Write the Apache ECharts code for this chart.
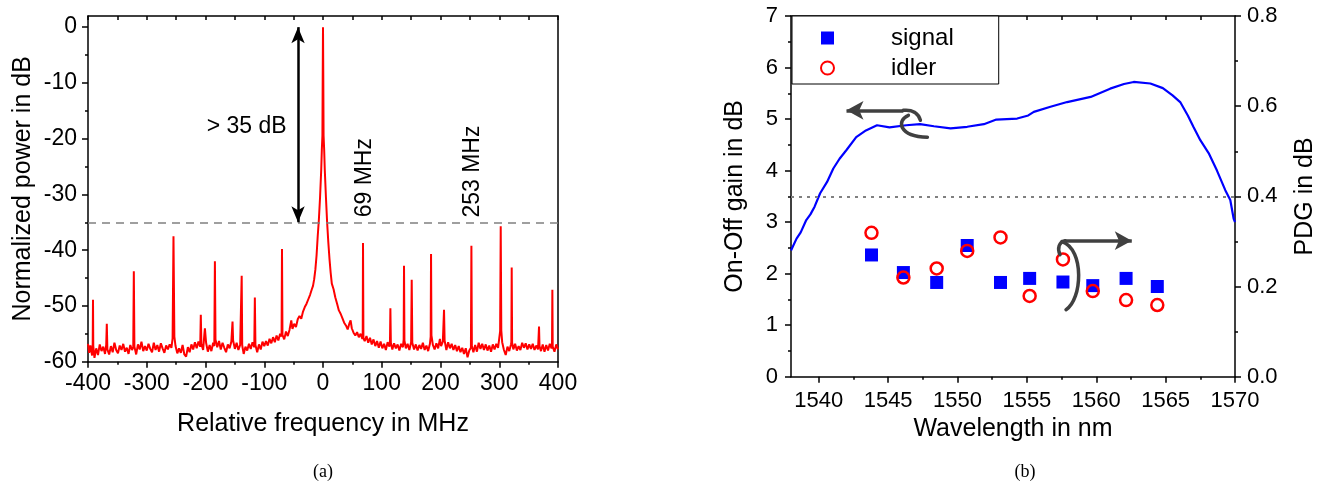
<!DOCTYPE html>
<html><head><meta charset="utf-8">
<script src="https://cdn.jsdelivr.net/npm/echarts@6/dist/echarts.min.js"></script>
<style>html,body{margin:0;padding:0;background:#fff}#c{width:1323px;height:485px}</style>
</head><body><div id="c"></div>
<script>
// ---------- (a) RF spectrum: [relative frequency MHz, normalized power dB] ----------
const spectrum = [
[-400,-56.8],[-398,-58.4],[-396,-57.1],[-393,-58.9],[-392,-56.9],[-391.5,-48.9],[-391,-57.2],[-389,-59.3],[-386,-57.6],[-383,-58.8],[-380,-56.9],[-377,-58.1],[-374,-57.3],[-371,-58.6],[-369,-57.0],[-368,-53.2],[-367,-57.8],[-364,-58.7],[-361,-57.2],[-358,-58.3],[-355,-56.6],[-352,-57.9],[-349,-58.5],[-346,-57.1],[-343,-57.9],[-340,-56.8],[-337,-58.2],[-334,-57.5],[-331,-58.6],[-328,-57.0],[-325,-57.9],[-323,-57.4],[-322,-43.8],[-321,-57.3],[-318,-58.7],[-315,-56.9],[-312,-57.8],[-309,-56.4],[-306,-58.1],[-303,-57.2],[-300,-58.0],[-297,-56.8],[-294,-57.7],[-291,-58.3],[-288,-56.6],[-285,-57.9],[-282,-57.0],[-279,-58.2],[-276,-56.7],[-273,-57.6],[-270,-58.4],[-267,-57.1],[-264,-57.8],[-261,-56.9],[-258,-57.5],[-256,-55.8],[-254.5,-37.5],[-253,-55.5],[-251,-57.2],[-248,-58.5],[-245,-57.6],[-242,-58.4],[-239,-57.0],[-236,-58.7],[-233,-59.1],[-230,-57.4],[-227,-58.3],[-224,-56.9],[-221,-57.8],[-218,-56.5],[-215,-57.6],[-212,-56.4],[-209,-57.3],[-208,-51.6],[-207,-56.8],[-204,-57.9],[-202,-55.2],[-201,-54.0],[-199,-56.6],[-196,-58.2],[-193,-57.0],[-190,-58.1],[-187,-56.6],[-185,-57.2],[-184,-42.0],[-183,-56.0],[-180,-57.4],[-177,-56.3],[-174,-57.8],[-171,-56.6],[-168,-57.5],[-165,-58.3],[-162,-56.9],[-159,-57.6],[-156,-56.4],[-154,-52.8],[-153,-56.2],[-150,-57.7],[-147,-56.6],[-144,-57.9],[-141,-57.0],[-139,-56.8],[-138.4,-44.6],[-137.5,-57.1],[-135,-58.6],[-132,-57.3],[-129,-58.0],[-126,-56.8],[-123,-57.7],[-120,-56.5],[-117,-57.4],[-116,-48.5],[-115,-57.0],[-112,-58.3],[-109,-56.9],[-106,-57.8],[-103,-56.4],[-100,-57.2],[-97,-56.3],[-94,-57.1],[-91,-55.9],[-88,-56.7],[-85,-55.6],[-82,-56.5],[-79,-55.3],[-76,-56.2],[-73,-55.0],[-70.5,-55.5],[-69.8,-39.8],[-69,-55.2],[-66,-56.0],[-63,-54.6],[-60,-55.4],[-57,-54.3],[-54,-52.6],[-52,-54.1],[-49,-53.2],[-46,-53.8],[-43,-52.4],[-40,-51.8],[-37,-52.3],[-34,-51.0],[-31,-50.2],[-28,-49.6],[-25,-48.8],[-22,-48.0],[-19,-47.0],[-17,-46.4],[-15,-45.2],[-13,-43.5],[-11,-41.0],[-9,-37.5],[-7,-34.5],[-5,-30.5],[-3,-25.5],[-2,-22.0],[-1,-19.5],[-0.5,-9],[0,0],[0.5,-9],[1,-19.5],[2,-22.0],[3,-25.5],[5,-30.5],[7,-35.0],[9,-38.5],[11,-41.5],[13,-44.0],[15,-46.0],[18,-47.0],[21,-48.5],[24,-49.6],[27,-50.8],[30,-51.4],[33,-52.2],[36,-53.0],[39,-53.5],[42,-54.2],[45,-53.1],[47,-52.6],[49,-54.0],[52,-54.8],[55,-55.3],[58,-54.7],[61,-55.6],[64,-55.0],[67,-55.9],[67.6,-55.5],[68.1,-38.7],[68.8,-55.8],[71,-56.3],[74,-55.4],[77,-56.6],[80,-55.7],[83,-56.9],[86,-56.0],[89,-57.2],[92,-56.3],[95,-57.5],[98,-56.4],[101,-57.6],[104,-56.8],[107,-57.9],[110,-56.5],[113,-57.3],[114,-56.5],[114.7,-50.4],[115.5,-56.6],[118,-57.8],[121,-56.7],[124,-57.6],[127,-56.9],[130,-58.0],[133,-56.8],[136,-57.4],[137.3,-56.0],[137.9,-42.8],[138.6,-56.2],[141,-57.6],[144,-56.8],[147,-57.9],[150,-56.5],[151,-45.3],[152,-56.6],[155,-57.8],[158,-56.9],[161,-58.0],[164,-57.0],[167,-57.7],[170,-56.6],[173,-57.9],[176,-57.1],[179,-58.1],[182,-56.8],[183.3,-55.5],[183.9,-40.7],[184.6,-55.3],[187,-57.0],[190,-57.8],[193,-56.7],[196,-57.6],[199,-55.9],[201,-57.2],[204,-56.4],[206,-50.7],[207,-56.2],[210,-57.9],[213,-56.5],[216,-57.6],[219,-56.8],[222,-57.9],[225,-57.0],[228,-58.1],[231,-57.2],[234,-58.3],[237,-57.5],[240,-58.6],[243,-57.6],[246,-59.2],[249,-58.0],[251.8,-57.5],[252.6,-39.2],[253.4,-57.2],[256,-58.3],[259,-57.0],[262,-58.2],[265,-56.6],[268,-57.7],[271,-56.8],[274,-57.9],[277,-56.9],[280,-58.0],[283,-57.1],[286,-58.2],[289,-56.9],[292,-57.8],[295,-56.8],[298,-57.5],[300,-55.8],[301.5,-54.5],[302.5,-35.7],[303.5,-54.4],[305,-56.5],[308,-57.9],[311,-58.8],[314,-57.3],[317,-58.1],[320,-56.9],[320.6,-56.5],[321.2,-43.1],[321.9,-56.6],[324,-57.8],[327,-56.8],[330,-58.0],[333,-57.2],[336,-57.9],[339,-56.6],[342,-57.5],[345,-56.7],[348,-57.8],[351,-56.9],[354,-57.7],[357,-56.8],[360,-57.9],[363,-57.1],[366,-57.8],[367.7,-53.7],[368.5,-57.2],[371,-58.1],[374,-56.9],[377,-58.2],[380,-57.0],[383,-58.0],[386,-56.8],[389,-57.6],[389.8,-57.0],[390.4,-47.1],[391,-57.3],[394,-58.2],[397,-56.9],[400,-57.8]
];
const freqTicks = [-400,-300,-200,-100,0,100,200,300,400];
const powerTicks = [-60,-50,-40,-30,-20,-10,0];
const spurLabels = [{text:'69 MHz', f:71, p:-27}, {text:'253 MHz', f:254, p:-25.9}];

// ---------- (b) gain / PDG ----------
const gainCurve = [
[1538.0,2.45],[1538.4,2.68],[1538.7,2.80],[1539.1,3.04],[1539.4,3.15],[1539.7,3.30],[1540.1,3.56],[1540.6,3.78],[1541.05,4.04],[1541.5,4.23],[1542.0,4.40],[1542.7,4.65],[1543.4,4.78],[1544.2,4.88],[1545.1,4.84],[1546.3,4.88],[1547.3,4.90],[1548.3,4.86],[1549.5,4.82],[1550.7,4.85],[1551.9,4.90],[1552.8,4.99],[1554.3,5.01],[1555.1,5.07],[1555.5,5.14],[1556.7,5.24],[1557.9,5.33],[1559.6,5.43],[1561.0,5.59],[1562.0,5.68],[1562.7,5.72],[1563.9,5.69],[1564.8,5.60],[1565.5,5.46],[1566.05,5.33],[1566.6,5.07],[1567.0,4.85],[1567.5,4.59],[1568.1,4.34],[1568.7,4.00],[1569.3,3.62],[1569.66,3.43],[1569.9,3.07],[1570,3.0]
];
const pointWl   = [1543.8,1546.1,1548.5,1550.7,1553.1,1555.2,1557.6,1559.75,1562.15,1564.4];
const signalPDG = [0.270,0.231,0.209,0.291,0.209,0.218,0.210,0.202,0.218,0.200];
const idlerPDG  = [0.319,0.220,0.240,0.279,0.309,0.179,0.260,0.190,0.170,0.159];
const wlTicks = [1540,1545,1550,1555,1560,1565,1570];
const wlMinorTicks = [1542.5,1547.5,1552.5,1557.5,1562.5,1567.5];
const wlTopTicks = [1540,1542.5,1545,1547.5,1550,1552.5,1555,1557.5,1560,1562.5,1565,1567.5];

const FONT = "'Liberation Sans', Arial, sans-serif";
const axLine = {show:true, onZero:false, lineStyle:{color:'#000', width:1.5}};
const tickStyle = {color:'#000', width:1.5};
const lbl = (size, margin, extra) => Object.assign({color:'#000', fontSize:size, fontFamily:FONT, margin:margin}, extra||{});
const nameStyle = {fontSize:25, color:'#000', fontFamily:FONT};
const plain = v => String(v);

const chart = echarts.init(document.getElementById('c'), null, {renderer:'canvas'});
const option = {
  animation:false,
  backgroundColor:'#fff',
  grid:[
    {left:88, top:16, width:470, height:345.7},
    {left:791, top:16, width:444, height:360.7}
  ],
  legend:{
    left:792, top:16, orient:'vertical',
    data:[{name:'signal', icon:'rect'},{name:'idler', icon:'circle'}],
    itemWidth:13, itemHeight:13, itemGap:6,
    padding:[10,45,4,28],
    borderColor:'#000', borderWidth:1, backgroundColor:'#fff',
    textStyle:{fontSize:24, color:'#000', fontFamily:FONT, padding:[0,0,0,52]},
    selectedMode:false
  },
  xAxis:[
    {gridIndex:0, type:'value', min:-400, max:400, interval:100, position:'bottom',
     axisLine:axLine, axisTick:{length:6, lineStyle:tickStyle},
     minorTick:{show:true, splitNumber:2, length:3, lineStyle:tickStyle},
     splitLine:{show:false}, axisLabel:lbl(23,10, {customValues:freqTicks, formatter:plain}),
     name:'Relative frequency in MHz', nameLocation:'middle', nameGap:50, nameTextStyle:nameStyle},
    {gridIndex:0, type:'value', min:-400, max:400, interval:50, position:'top',
     axisLine:axLine, axisTick:{inside:true, length:4, lineStyle:tickStyle},
     axisLabel:{show:false}, splitLine:{show:false}},
    {gridIndex:1, type:'value', min:1538, max:1570, position:'bottom',
     axisLine:axLine, axisTick:{length:6, lineStyle:tickStyle, customValues:wlTicks},
     splitLine:{show:false}, axisLabel:lbl(22,13,{customValues:wlTicks, formatter:plain}),
     name:'Wavelength in nm', nameLocation:'middle', nameGap:38, nameTextStyle:nameStyle},
    {gridIndex:1, type:'value', min:1538, max:1570, position:'bottom',
     axisLine:{show:false, onZero:false}, axisTick:{length:3, lineStyle:tickStyle, customValues:wlMinorTicks},
     axisLabel:{show:false}, splitLine:{show:false}},
    {gridIndex:1, type:'value', min:1538, max:1570, position:'top',
     axisLine:axLine, axisTick:{inside:true, length:4, lineStyle:tickStyle, customValues:wlTopTicks},
     axisLabel:{show:false}, splitLine:{show:false}}
  ],
  yAxis:[
    {gridIndex:0, type:'value', min:-60, max:2, interval:10, position:'left',
     axisLine:axLine, axisTick:{length:6, lineStyle:tickStyle, customValues:powerTicks},
     minorTick:{show:true, splitNumber:2, length:3, lineStyle:tickStyle},
     splitLine:{show:false}, axisLabel:lbl(23,11,{customValues:powerTicks, formatter:plain}),
     name:'Normalized power in dB', nameLocation:'middle', nameGap:52, nameRotate:90, nameTextStyle:nameStyle},
    {gridIndex:0, type:'value', min:-60, max:2, position:'right',
     axisLine:axLine, axisTick:{show:false}, axisLabel:{show:false}, splitLine:{show:false}},
    {gridIndex:1, type:'value', min:0, max:7, interval:1, position:'left',
     axisLine:axLine, axisTick:{length:6, lineStyle:tickStyle},
     minorTick:{show:true, splitNumber:2, length:3, lineStyle:tickStyle},
     splitLine:{show:false}, axisLabel:lbl(22,13),
     name:'On-Off gain in dB', nameLocation:'middle', nameGap:43, nameRotate:90, nameTextStyle:nameStyle},
    {gridIndex:1, type:'value', min:0, max:0.8, interval:0.2, position:'right',
     axisLine:axLine, axisTick:{length:6, lineStyle:tickStyle},
     minorTick:{show:true, splitNumber:2, length:3, lineStyle:tickStyle},
     splitLine:{show:false}, axisLabel:lbl(22,12,{formatter:v=>v.toFixed(1)}),
     name:'PDG in dB', nameLocation:'middle', nameGap:58, nameRotate:90, nameTextStyle:nameStyle}
  ],
  series:[
    {type:'line', name:'spectrum', xAxisIndex:0, yAxisIndex:0, data:spectrum,
     symbol:'none', showSymbol:false, lineStyle:{color:'#ff0000', width:2}, itemStyle:{color:'#ff0000'}, z:3,
     markLine:{silent:true, symbol:'none', label:{show:false}, animation:false, data:[
       {yAxis:-35, lineStyle:{color:'#808080', type:[8,6], width:1.5}},
       [{coord:[-42.5,0], symbol:'arrow', symbolSize:[10,16], lineStyle:{color:'#000', width:2.5, type:'solid'}},
        {coord:[-42.5,-35], symbol:'arrow', symbolSize:[10,16], lineStyle:{color:'#000', width:2.5, type:'solid'}}]
     ]}},
    {type:'line', name:'gain', xAxisIndex:2, yAxisIndex:2, data:gainCurve,
     symbol:'none', showSymbol:false, lineStyle:{color:'#0000ff', width:2.2}, itemStyle:{color:'#0000ff'}, z:3,
     markLine:{silent:true, symbol:'none', label:{show:false}, animation:false, data:[
       {yAxis:3.5, lineStyle:{color:'#808080', type:[3,5], width:2}},
       [{coord:[1546.1,5.17], symbol:'none', lineStyle:{color:'#404040', width:3.5, type:'solid'}},
        {coord:[1542.0,5.17], symbol:'arrow', symbolSize:[14,17], lineStyle:{color:'#404040', width:3.5, type:'solid'}}],
       [{coord:[1557.75,2.64], symbol:'none', lineStyle:{color:'#404040', width:3.5, type:'solid'}},
        {coord:[1562.56,2.64], symbol:'arrow', symbolSize:[14,17], lineStyle:{color:'#404040', width:3.5, type:'solid'}}]
     ]}},
    {type:'scatter', name:'signal', xAxisIndex:2, yAxisIndex:3,
     data:pointWl.map((w,i)=>[w, signalPDG[i]]),
     symbol:'rect', symbolSize:13, itemStyle:{color:'#0000ff', opacity:1}, z:4},
    {type:'scatter', name:'idler', xAxisIndex:2, yAxisIndex:3,
     data:pointWl.map((w,i)=>[w, idlerPDG[i]]),
     symbol:'circle', symbolSize:12,
     itemStyle:{color:'rgba(255,255,255,0)', borderColor:'#ff0000', borderWidth:2.5, opacity:1}, z:5}
  ]
};
chart.setOption(option);

const px = (xi, yi, v) => chart.convertToPixel({xAxisIndex:xi, yAxisIndex:yi}, v);
const txt = (x, y, text, align, size, rot, family) => ({
  type:'text', x:x, y:y, rotation:rot||0, z:10, silent:true,
  style:{text:text, x:0, y:0, fill:'#000', fontSize:size, fontFamily:family||FONT,
         align:align, textAlign:align, verticalAlign:'middle', textVerticalAlign:'middle'}
});
const curve = (o, p) => ({
  type:'bezierCurve', z:10, silent:true,
  shape:{x1:o[0]+p[0], y1:o[1]+p[1], cpx1:o[0]+p[2], cpy1:o[1]+p[3], cpx2:o[0]+p[4], cpy2:o[1]+p[5], x2:o[0]+p[6], y2:o[1]+p[7]},
  style:{stroke:'#404040', lineWidth:3.5, fill:null, lineCap:'round'}
});
const g = [];
const t35 = px(0,0,[-62,-17.8]);
g.push(txt(t35[0], t35[1], '> 35 dB', 'right', 23));
spurLabels.forEach(s => { const p = px(0,0,[s.f, s.p]); g.push(txt(p[0], p[1], s.text, 'center', 23, Math.PI/2)); });
const aL = px(2,2,[1546.1,5.17]);
g.push(curve(aL, [0,0, 9,-1, 15,3, 17,10]));
g.push(curve(aL, [5,5, -7,10, -5,26, 24,27]));
const aR = px(2,2,[1557.75,2.64]);
g.push(curve(aR, [0,0, -6,1, -8,8, -5,14]));
g.push(curve(aR, [-3,1, 20,9, 17,59, 1,69]));
g.push(txt(323, 472, '(a)', 'center', 18, 0, "'Liberation Serif', 'Times New Roman', serif"));
g.push(txt(1025, 472, '(b)', 'center', 18, 0, "'Liberation Serif', 'Times New Roman', serif"));
chart.setOption({graphic:{elements:g}});
</script>
</body></html>
